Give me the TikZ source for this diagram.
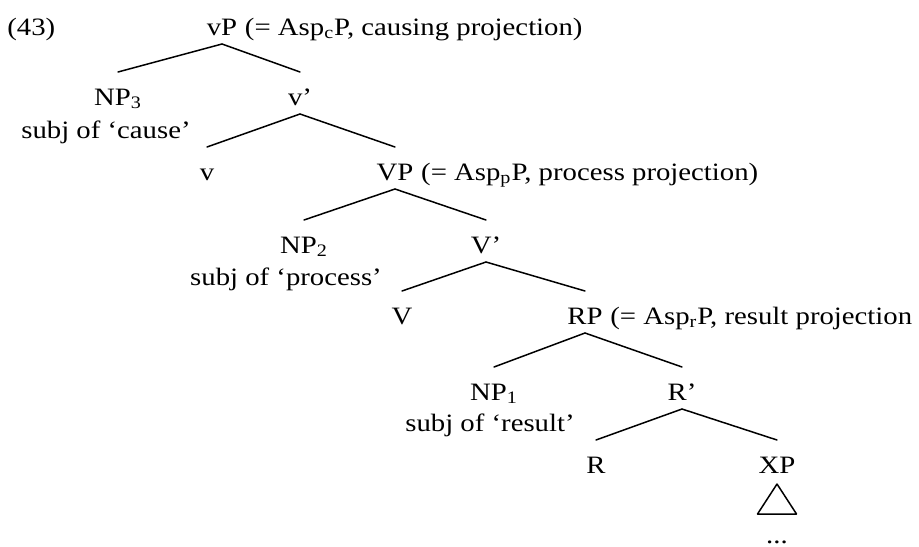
\documentclass[tikz,border=0pt]{standalone}
\usepackage{fontspec}
\setmainfont[FakeStretch=1.15]{Liberation Serif}
\begin{document}
\begin{tikzpicture}[x=0.5pt,y=-0.5pt,font=\fontsize{12.5}{15}\selectfont,line join=round,line cap=round]
	\tikzset{every node/.style={inner sep=0pt},
		cat/.style={anchor=base},
		gloss/.style={anchor=base west},
		branch/.style={line width=0.75pt}}
	\useasboundingbox (0,0) rectangle (919,546);
	\node[gloss] (ex) at (7,35) {(43)};
	% causing layer
	\node[cat] (vP) at (222,35) {vP};
	\node[gloss,xshift=3.5pt] (vPlab) at (vP.base east) {(= Asp\textsubscript{c}P, causing projection)};
	\node[cat] (NP3) at (118,105) {NP\textsubscript{3}};
	\node[cat] (subj3) at (106,138) {subj of `cause'};
	\node[cat] (v1) at (300,105) {v'};
	\node[cat] (v) at (207,180) {v};
	% process layer
	\node[cat] (VP) at (395,180) {VP};
	\node[gloss,xshift=3.5pt] (VPlab) at (VP.base east) {(= Asp\textsubscript{p}P, process projection)};
	\node[cat] (NP2) at (304,253) {NP\textsubscript{2}};
	\node[cat] (subj2) at (286,285) {subj of `process'};
	\node[cat] (V1) at (486,253) {V'};
	\node[cat] (V) at (402,324) {V};
	% result layer
	\node[cat] (RP) at (585,324) {RP};
	\node[gloss,xshift=3.5pt] (RPlab) at (RP.base east) {(= Asp\textsubscript{r}P, result projection};
	\node[cat] (NP1) at (494,400) {NP\textsubscript{1}};
	\node[cat] (subj1) at (490,431) {subj of `result'};
	\node[cat] (R1) at (682,400) {R'};
	\node[cat] (R) at (596,473) {R};
	\node[cat] (XP) at (777,473) {XP};
	\node[cat] (dots) at (777,543) {...};
	\foreach \p/\c in {vP/NP3,vP/v1,v1/v,v1/VP,VP/NP2,VP/V1,V1/V,V1/RP,RP/NP1,RP/R1,R1/R,R1/XP}
	\draw[branch] ([yshift=-4.5pt]\p.base) -- ([yshift=16.5pt]\c.base);
	\draw[branch] ([yshift=-5.5pt]XP.base) -- ([xshift=-9.75pt,yshift=-20.5pt]XP.base)
		-- ([xshift=9.75pt,yshift=-20.5pt]XP.base) -- cycle;
\end{tikzpicture}
\end{document}
